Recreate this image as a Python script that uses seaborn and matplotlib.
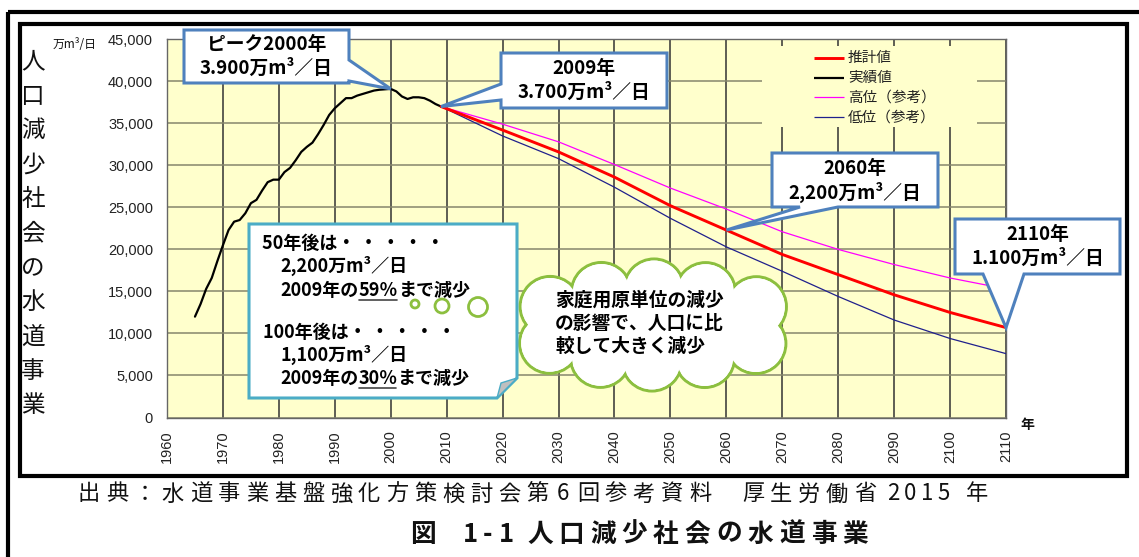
import matplotlib
matplotlib.use("Agg")
import matplotlib.pyplot as plt
import seaborn as sns
import numpy as np
import pandas as pd
from matplotlib.patches import Polygon, Rectangle, Circle, Ellipse

# ---------------- data ----------------
actual_years = list(range(1965, 2010))
actual_values = [12000, 13500, 15300, 16600, 18600, 20500, 22300, 23300, 23500, 24300,
                 25500, 25900, 27000, 28000, 28300, 28300, 29200, 29700, 30600, 31600,
                 32200, 32700, 33700, 34800, 36000, 36800, 37400, 38000, 38000, 38300,
                 38500, 38700, 38900, 39000, 39050, 39100, 38800, 38200, 37900, 38100,
                 38100, 38000, 37700, 37300, 37000]

proj_years = [2009, 2020, 2030, 2040, 2050, 2060, 2070, 2080, 2090, 2100, 2110]
proj_estimate = [37000, 34200, 31600, 28600, 25200, 22300, 19400, 17000, 14600, 12500, 10700]
proj_high = [37000, 34900, 32800, 30100, 27300, 24800, 22100, 20000, 18200, 16600, 15300]
proj_low = [37000, 33500, 30800, 27400, 23700, 20300, 17400, 14400, 11600, 9400, 7600]

series_labels = ["推計値", "実績値", "高位（参考）", "低位（参考）"]
x_ticks = list(range(1960, 2111, 10))
y_ticks = list(range(0, 45001, 5000))

callout_peak = ["ピーク2000年", "3.900万m³／日"]
callout_2009 = ["2009年", "3.700万m³／日"]
callout_2060 = ["2060年", "2,200万m³／日"]
callout_2110 = ["2110年", "1.100万m³／日"]
note_lines = [
    ["50年後は・ ・ ・ ・ ・"],
    ["2,200万m³／日"],
    ["2009年の", "59％", "まで減少"],
    ["100年後は・ ・ ・ ・ ・"],
    ["1,100万m³／日"],
    ["2009年の", "30％", "まで減少"],
]
cloud_lines = ["家庭用原単位の減少", "の影響で、人口に比", "較して大きく減少"]
side_title = "人口減少社会の水道事業"
unit_label = "万m³/日"
x_unit = "年"
source_parts = ["出典：水道事業基盤強化方策検討会第", "6", "回参考資料", "厚生労働省", "2015", "年"]
fig_title_parts = ["図", "1-1", "人口減少社会の水道事業"]

# ---------------- style ----------------
sns.set_style("white")
CJK = ["Noto Sans CJK JP", "DejaVu Sans"]
plt.rcParams["font.family"] = CJK

W, H = 1139, 557
fig = plt.figure(figsize=(W / 100, H / 100), dpi=100)
fig.patch.set_facecolor("white")

L, R, T, B = 167, 1006, 39.3, 417.5
ax = fig.add_axes([L / W, 1 - B / H, (R - L) / W, (B - T) / H])
ax.set_facecolor("#FFFFCC")

C_EST, C_ACT, C_HIGH, C_LOW = "#FF0000", "#000000", "#FF00FF", "#20208C"
LW_EST, LW_ACT, LW_HIGH, LW_LOW = 2.1, 1.6, 0.9, 0.9

sns.lineplot(x=actual_years, y=actual_values, color=C_ACT, linewidth=LW_ACT, ax=ax, zorder=4)
sns.lineplot(x=proj_years, y=proj_low, color=C_LOW, linewidth=LW_LOW, ax=ax, zorder=4)
sns.lineplot(x=proj_years, y=proj_high, color=C_HIGH, linewidth=LW_HIGH, ax=ax, zorder=4)
sns.lineplot(x=proj_years, y=proj_estimate, color=C_EST, linewidth=LW_EST, ax=ax, zorder=5)

ax.set_xlim(x_ticks[0], x_ticks[-1])
ax.set_ylim(y_ticks[0], y_ticks[-1])
ax.set_xticks(x_ticks)
ax.set_yticks(y_ticks)
ax.set_xticklabels([str(v) for v in x_ticks], rotation=90, fontfamily="Liberation Sans",
                   fontsize=10.5, color="#222")
ax.set_yticklabels([f"{v:,}" for v in y_ticks], fontfamily="Liberation Sans",
                   fontsize=10.5, color="#222")
ax.tick_params(axis="both", length=0)
ax.tick_params(axis="x", pad=9)
ax.tick_params(axis="y", pad=10)
ax.set_xlabel("")
ax.set_ylabel("")
ax.xaxis.grid(True, color="#333333", linewidth=1.1)
ax.yaxis.grid(True, color="#86866c", linewidth=1.1)
ax.set_axisbelow(True)
for s in ax.spines.values():
    s.set_color("#666666")
    s.set_linewidth(1.0)

# ---------------- overlay in pixel coords ----------------
ov = fig.add_axes([0, 0, 1, 1], zorder=10)
ov.set_xlim(0, W)
ov.set_ylim(H, 0)
ov.axis("off")
ov.patch.set_alpha(0)


def to_px(x, y):
    d = ax.transData.transform((x, y))
    return ov.transData.inverted().transform(d)


# frames
ov.add_patch(Rectangle((7.5, 12), W + 50, H + 50, fill=False, ec="black", lw=3.0, zorder=1))
ov.add_patch(Rectangle((20, 23.5), 1127 - 20, 476 - 23.5, fill=False, ec="black", lw=3.0, zorder=1))

# legend
ov.add_patch(Rectangle((762, 46), 215, 81, fc="#FFFFCC", ec="none", zorder=2))
leg_styles = [(C_EST, LW_EST), (C_ACT, LW_ACT), (C_HIGH, LW_HIGH), (C_LOW, LW_LOW)]
for i, (lab, (c, lw)) in enumerate(zip(series_labels, leg_styles)):
    yy = 58 + i * 19.7
    ov.plot([814, 844], [yy, yy], color=c, lw=lw, zorder=3, solid_capstyle="butt")
    ov.text(848, yy, lab, ha="left", va="center", fontsize=10.5, color="#222", zorder=3)

# callouts
BLUE = "#4F81BD"


def callout(box, side, base, tip, lines, fs=13.5):
    x0, y0, x1, y1 = box
    b0, b1 = base
    tx, ty = tip
    if side == "right":
        verts = [(x0, y0), (x1, y0), (x1, b0), (tx, ty), (x1, b1), (x1, y1), (x0, y1)]
    elif side == "left":
        verts = [(x0, y0), (x1, y0), (x1, y1), (x0, y1), (x0, b1), (tx, ty), (x0, b0)]
    else:
        verts = [(x0, y0), (x1, y0), (x1, y1), (b1, y1), (tx, ty), (b0, y1), (x0, y1)]
    ov.add_patch(Polygon(verts, closed=True, fc="white", ec=BLUE, lw=2.2,
                         joinstyle="miter", zorder=6))
    xc, yc = (x0 + x1) / 2, (y0 + y1) / 2
    for k, ln in enumerate(lines):
        ov.text(xc, yc + (k - 0.5) * 24, ln, ha="center", va="center", fontsize=fs,
                fontweight="bold", color="black", zorder=7)


pk = int(np.argmax(actual_values))
callout((184, 30, 349, 83), "right", (60, 81), to_px(actual_years[pk], actual_values[pk]), callout_peak)
callout((501, 53, 667, 108), "left", (84, 100), to_px(proj_years[0], proj_estimate[0]), callout_2009)
i60 = proj_years.index(2060)
callout((772, 153, 938, 207), "bottom", (800, 838), to_px(proj_years[i60], proj_estimate[i60]), callout_2060)
callout((955, 219, 1120, 274), "bottom", (983, 1024), to_px(proj_years[-1], proj_estimate[-1]), callout_2110)

# note box with folded corner
NB = "#4BACC6"
bx0, by0, bx1, by1 = 249, 224, 517, 398
note_verts = [(bx0, by0), (bx1, by0), (bx1, by1 - 20), (bx1 - 20, by1), (bx0, by1)]
ov.add_patch(Polygon(note_verts, closed=True, fc="white", ec="none", zorder=6))
ov.add_patch(Polygon(note_verts, closed=True, fill=False, ec=NB, lw=2.2, joinstyle="miter", zorder=9))
ov.add_patch(Polygon([(bx1 - 20, by1), (bx1, by1 - 20), (bx1 - 16, by1 - 15)], closed=True,
                     fc="#BFBFBF", ec=NB, lw=1.0, zorder=9))

renderer = fig.canvas.get_renderer()
note_y = [243, 266, 290, 332, 355, 378]
note_x = [262, 280, 280, 263, 280, 280]
for ys, xs, parts in zip(note_y, note_x, note_lines):
    x = xs
    for j, p in enumerate(parts):
        t = ov.text(x, ys, p, ha="left", va="center", fontsize=13, fontweight="bold",
                    color="black", zorder=10)
        w = t.get_window_extent(renderer=renderer).width
        if len(parts) == 3 and j == 1:
            ov.plot([x + 1, x + w - 1], [ys + 10, ys + 10], color="#444", lw=1.2, zorder=10)
        x += w

GREEN = "#8CBF3F"
for (bxc, byc, br) in [(415, 304, 4), (442, 306, 7), (478, 307, 9.5)]:
    ov.add_patch(Circle((bxc, byc), br, fc="white", ec=GREEN, lw=2.0, zorder=10))

# cloud
ccx, ccy, ca, cb = 653, 325, 120, 36
tt = np.linspace(0, 2 * np.pi, 721)
ex, ey = ccx + ca * np.cos(tt), ccy + cb * np.sin(tt)
cum = np.concatenate([[0], np.cumsum(np.hypot(np.diff(ex), np.diff(ey)))])
nlob = 10
idx = np.searchsorted(cum, np.arange(nlob) * cum[-1] / nlob + cum[-1] / (2 * nlob))
lr = 30
for k in idx:
    ov.add_patch(Circle((ex[k], ey[k]), lr, fc="white", ec=GREEN, lw=2.2, zorder=7))
for k in idx:
    ov.add_patch(Circle((ex[k], ey[k]), lr - 1.6, fc="white", ec="none", zorder=8))
ov.add_patch(Ellipse((ccx, ccy), 2 * ca, 2 * cb, fc="white", ec="none", zorder=8))
for k, ln in enumerate(cloud_lines):
    ov.text(555, 300 + k * 23, ln, ha="left", va="center", fontsize=13.5, fontweight="bold",
            color="black", zorder=10)

# side title (vertical)
for k, ch in enumerate(side_title):
    ov.text(33, 62 + k * 34.4, ch, ha="center", va="center", fontsize=17, color="#111", zorder=3)

ov.text(53, 45, unit_label, ha="left", va="center", fontsize=8.5, color="#111", zorder=3)
ov.text(1027, 425, x_unit, ha="center", va="center", fontsize=10, fontweight="bold", color="#111", zorder=3)


# bottom texts (letter-spaced)
def spaced(x0, y, s, pitch, **kw):
    for k, ch in enumerate(s):
        ov.text(x0 + k * pitch, y, ch, ha="center", va="center", **kw)


src_kw = dict(fontsize=16, color="#111", zorder=3)
SY = 494
spaced(89, SY, source_parts[0], 28, **src_kw)
spaced(563, SY, source_parts[1], 28, **src_kw)
spaced(588, SY, source_parts[2], 28, **src_kw)
spaced(753, SY, source_parts[3], 28, **src_kw)
spaced(893, SY, source_parts[4], 17, **src_kw)
spaced(977, SY, source_parts[5], 28, **src_kw)

tit_kw = dict(fontsize=18.5, fontweight="bold", color="#111", zorder=3)
TY = 534
spaced(423, TY, fig_title_parts[0], 31, **tit_kw)
spaced(470, TY, fig_title_parts[1], 18, **tit_kw)
spaced(540, TY, fig_title_parts[2], 31.5, **tit_kw)

fig.savefig("out.png", dpi=100)
